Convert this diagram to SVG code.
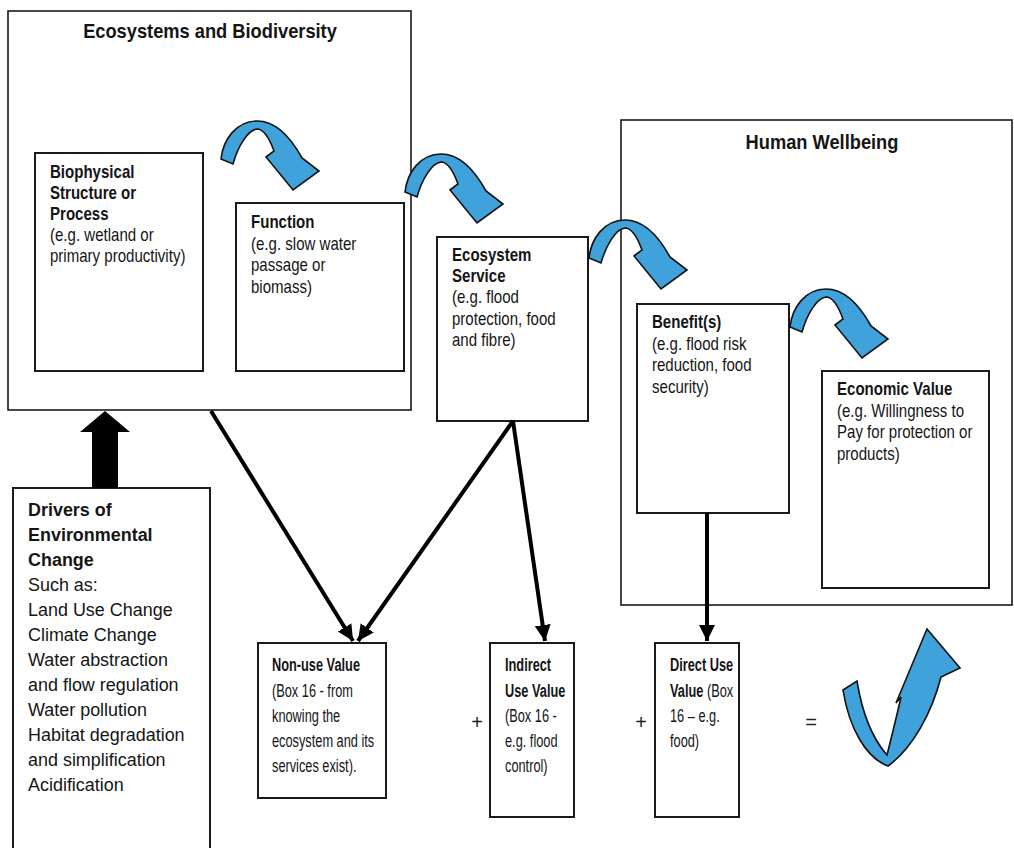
<svg xmlns="http://www.w3.org/2000/svg" width="1014" height="848" viewBox="0 0 1014 848">
  <style>
    .box { fill: #fff; stroke: #1a1a1a; stroke-width: 2; }
    .frame { fill: #fff; stroke: #1a1a1a; stroke-width: 1.6; }
    .t { font-family: "Liberation Sans", Arial, sans-serif; font-size: 17.5px; fill: #151515; }
    .v { font-family: "Liberation Sans", Arial, sans-serif; font-size: 17.5px; fill: #151515; }
    .b { font-weight: bold; }
    .title { font-family: "Liberation Sans", Arial, sans-serif; font-size: 21px; font-weight: bold; fill: #151515; }
    .drv { font-family: "Liberation Sans", Arial, sans-serif; font-size: 18.5px; fill: #151515; }
    .op { font-family: "Liberation Sans", Arial, sans-serif; font-size: 20px; fill: #222; }
    .arc { fill: #3fa2da; stroke: #111; stroke-width: 1.6; stroke-linejoin: miter; }
    .link { stroke: #000; stroke-width: 4; fill: none; }
  </style>
  <defs>
    <!-- curved ribbon arrow bending over to the right -->
    <path id="arcArrow" d="M221,159 C223,140 236,121 257,121 C276,121 291,138 302,158 L319,171 L293,190 L266,157 L274,151 C270,140 264,129 257,129 C248,130 238,146 233,164 Z"/>
    <marker id="head" markerUnits="userSpaceOnUse" markerWidth="20" markerHeight="20" refX="16" refY="8" orient="auto">
      <path d="M0,0 L16,8 L0,16 Z" fill="#000"/>
    </marker>
  </defs>

  <rect width="1014" height="848" fill="#fff"/>

  <!-- containers -->
  <g id="ecosystems">
    <rect class="frame" x="8" y="11" width="403" height="399"/>
    <text class="title" transform="translate(210,0) scale(0.87,1)" x="0" y="38" text-anchor="middle">Ecosystems and Biodiversity</text>
  </g>
  <g id="human-wellbeing">
    <rect class="frame" x="621" y="120" width="391" height="485"/>
    <text class="title" transform="translate(822,0) scale(0.87,1)" x="0" y="149" text-anchor="middle">Human Wellbeing</text>
  </g>

  <!-- chain of ecosystem boxes -->
  <g id="biophysical">
    <rect class="box" x="35" y="153" width="168" height="218"/>
    <g transform="translate(50,0) scale(0.86,1)">
      <text class="t b" x="0" y="178">Biophysical</text>
      <text class="t b" x="0" y="199">Structure or</text>
      <text class="t b" x="0" y="220">Process</text>
      <text class="t" x="0" y="241">(e.g. wetland or</text>
      <text class="t" x="0" y="262">primary productivity)</text>
    </g>
  </g>
  <g id="function">
    <rect class="box" x="236" y="203" width="168" height="168"/>
    <g transform="translate(251,0) scale(0.86,1)">
      <text class="t b" x="0" y="228">Function</text>
      <text class="t" x="0" y="250">(e.g. slow water</text>
      <text class="t" x="0" y="271">passage or</text>
      <text class="t" x="0" y="293">biomass)</text>
    </g>
  </g>
  <g id="ecosystem-service">
    <rect class="box" x="437" y="237" width="151" height="184"/>
    <g transform="translate(452,0) scale(0.86,1)">
      <text class="t b" x="0" y="261">Ecosystem</text>
      <text class="t b" x="0" y="282">Service</text>
      <text class="t" x="0" y="303">(e.g. flood</text>
      <text class="t" x="0" y="325">protection, food</text>
      <text class="t" x="0" y="346">and fibre)</text>
    </g>
  </g>
  <g id="benefits">
    <rect class="box" x="637" y="304" width="152" height="209"/>
    <g transform="translate(652,0) scale(0.86,1)">
      <text class="t b" x="0" y="328">Benefit(s)</text>
      <text class="t" x="0" y="350">(e.g. flood risk</text>
      <text class="t" x="0" y="371">reduction, food</text>
      <text class="t" x="0" y="393">security)</text>
    </g>
  </g>
  <g id="economic-value">
    <rect class="box" x="822" y="371" width="167" height="217"/>
    <g transform="translate(837,0) scale(0.86,1)">
      <text class="t b" x="0" y="395">Economic Value</text>
      <text class="t" x="0" y="417">(e.g. Willingness to</text>
      <text class="t" x="0" y="438">Pay for protection or</text>
      <text class="t" x="0" y="460">products)</text>
    </g>
  </g>

  <!-- drivers -->
  <g id="drivers">
    <rect class="box" x="13" y="488" width="197" height="370"/>
    <g class="drv" transform="translate(28,0) scale(0.97,1)">
      <text class="b" x="0" y="516">Drivers of</text>
      <text class="b" x="0" y="541">Environmental</text>
      <text class="b" x="0" y="566">Change</text>
      <text x="0" y="591">Such as:</text>
      <text x="0" y="616">Land Use Change</text>
      <text x="0" y="641">Climate Change</text>
      <text x="0" y="666">Water abstraction</text>
      <text x="0" y="691">and flow regulation</text>
      <text x="0" y="716">Water pollution</text>
      <text x="0" y="741">Habitat degradation</text>
      <text x="0" y="766">and simplification</text>
      <text x="0" y="791">Acidification</text>
    </g>
  </g>

  <!-- value boxes -->
  <g id="non-use-value">
    <rect class="box" x="258" y="643" width="128" height="155"/>
    <g transform="translate(272,0) scale(0.73,1)">
      <text class="v b" x="0" y="671">Non-use Value</text>
      <text class="v" x="0" y="697">(Box 16 - from</text>
      <text class="v" x="0" y="722">knowing the</text>
      <text class="v" x="0" y="747">ecosystem and its</text>
      <text class="v" x="0" y="772">services exist).</text>
    </g>
  </g>
  <g id="indirect-use-value">
    <rect class="box" x="490" y="643" width="84" height="174"/>
    <g transform="translate(505,0) scale(0.73,1)">
      <text class="v b" x="0" y="671">Indirect</text>
      <text class="v b" x="0" y="697">Use Value</text>
      <text class="v" x="0" y="722">(Box 16 -</text>
      <text class="v" x="0" y="747">e.g. flood</text>
      <text class="v" x="0" y="772">control)</text>
    </g>
  </g>
  <g id="direct-use-value">
    <rect class="box" x="655" y="643" width="84" height="174"/>
    <g transform="translate(670,0) scale(0.73,1)">
      <text class="v b" x="0" y="671">Direct Use</text>
      <text class="v" x="0" y="697"><tspan class="b">Value</tspan> (Box</text>
      <text class="v" x="0" y="722">16 – e.g.</text>
      <text class="v" x="0" y="747">food)</text>
    </g>
  </g>

  <!-- sum operators -->
  <g id="operators">
    <text class="op" x="477" y="729" text-anchor="middle">+</text>
    <text class="op" x="641" y="729" text-anchor="middle">+</text>
    <text class="op" x="811" y="729" text-anchor="middle">=</text>
  </g>

  <!-- connectors -->
  <g id="connectors">
    <line class="link" x1="211" y1="411" x2="353" y2="641" marker-end="url(#head)"/>
    <line class="link" x1="513" y1="421" x2="358" y2="641" marker-end="url(#head)"/>
    <line class="link" x1="513" y1="421" x2="545" y2="641" marker-end="url(#head)"/>
    <line class="link" x1="707" y1="513" x2="707" y2="641" marker-end="url(#head)"/>
    <!-- drivers push upward -->
    <polygon points="92,488 118,488 118,432 130,432 105,411 80,432 92,432" fill="#000"/>
    <!-- blue curved arrows linking the chain -->
    <use href="#arcArrow" class="arc"/>
    <use href="#arcArrow" class="arc" transform="translate(184,33)"/>
    <use href="#arcArrow" class="arc" transform="translate(368,99)"/>
    <use href="#arcArrow" class="arc" transform="translate(569,168)"/>
    <!-- rising total -->
    <path class="arc" d="M843,690 L857,681 C862,712 872,738 887,755 C892,735 897,715 901,697 L896,703 L927,629 L960,668 L941,677 C932,712 913,748 888,766 C866,758 849,728 843,690 Z"/>
  </g>
</svg>
